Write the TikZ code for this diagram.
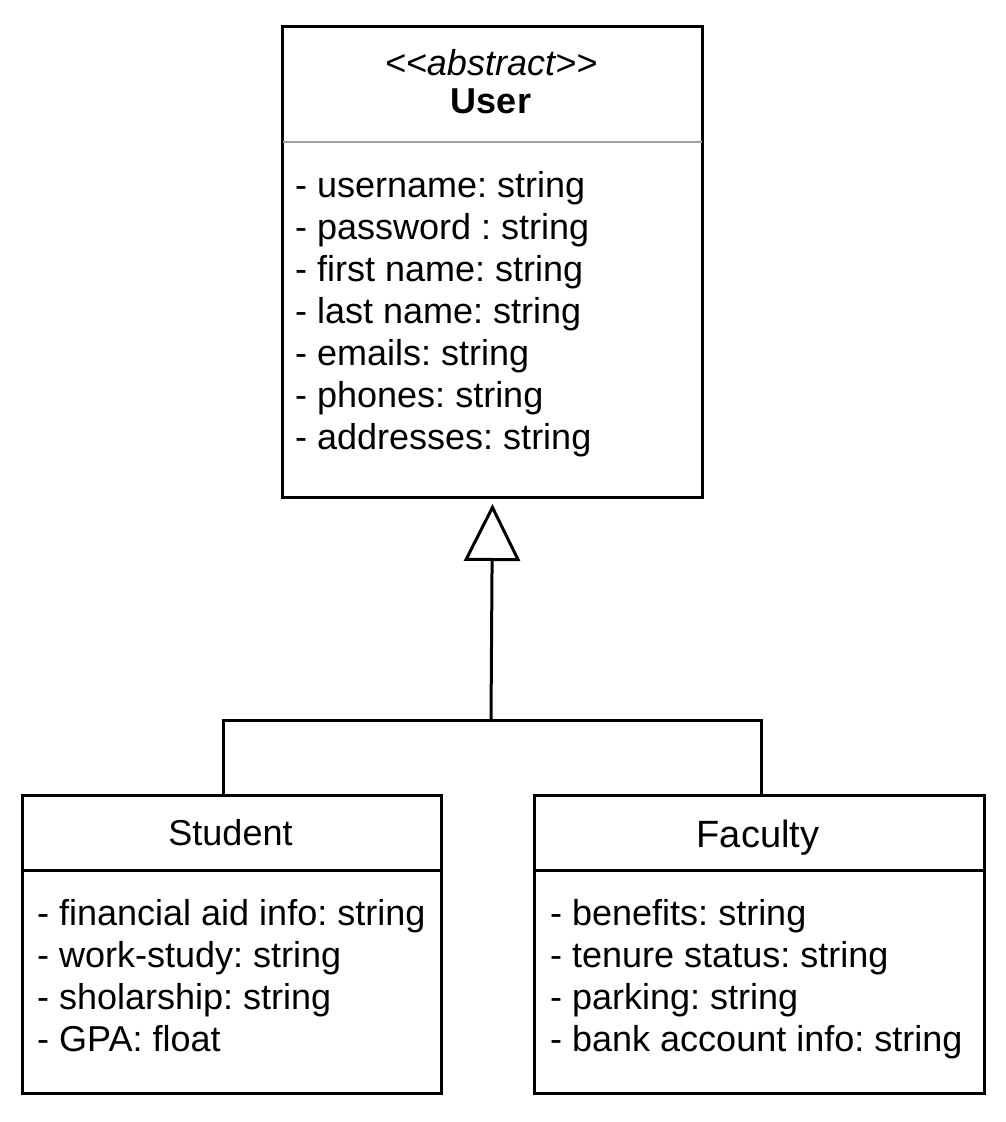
\documentclass[tikz,border=0pt]{standalone}
\usepackage{fontspec}
\setmainfont{Liberation Sans}[Ligatures=TeXOff]
\usepackage{tikz}
\usetikzlibrary{arrows.meta,positioning,calc}
\definecolor{sepgray}{HTML}{A0A0A0}
\tikzset{
  classbox/.style={draw=black,line width=3pt,fill=white,inner sep=0pt,anchor=north west},
  attr/.style={anchor=base west,inner sep=0pt,font=\fontsize{36}{42}\selectfont},
  ctitle/.style={anchor=base,inner sep=0pt,font=\fontsize{36}{42}\selectfont},
  link/.style={draw=black,line width=3pt},
}
\frenchspacing
\begin{document}
\begin{tikzpicture}[x=1pt,y=-1pt]
    \fill[white] (0,0) rectangle (1006,1122);
    \useasboundingbox (0,0) rectangle (1006,1122);
    % class boxes
    \node[classbox,minimum width=420pt,minimum height=471pt] (user) at (281,25) {};
    \node[classbox,minimum width=419pt,minimum height=298pt] (stud) at (21,794) {};
    \node[classbox,minimum width=450pt,minimum height=298pt] (fac) at (533,794) {};
    % compartment lines
    \draw[sepgray,line width=2pt] ($(user.north west)+(2,117)$) -- ($(user.north east)+(-2,117)$);
    \draw[line width=3pt] ($(stud.north west)+(0,76)$) -- ($(stud.north east)+(0,76)$);
    \draw[line width=3pt] ($(fac.north west)+(0,76)$) -- ($(fac.north east)+(0,76)$);
    % titles
    \node[ctitle] (ustereo) at (491,75) {\itshape <<abstract>>};
    \node[ctitle] (uname) at (491,113) {\bfseries User};
    \node[ctitle] (sname) at (230.5,845) {Student};
    \node[ctitle,font=\fontsize{38}{44}\selectfont] (fname) at (758,847) {Faculty};
    % attributes
    \foreach \txt [count=\i] in {username: string,password : string,first name: string,last name: string,emails: string,phones: string,addresses: string}
      {\node[attr] (ua\i) at (295,{155+42*\i}) {- \txt};}
    \foreach \txt [count=\i] in {financial aid info: string,work-study: string,sholarship: string,GPA: float}
      {\node[attr] (sa\i) at (37,{883+42*\i}) {- \txt};}
    \foreach \txt [count=\i] in {benefits: string,tenure status: string,parking: string,bank account info: string}
      {\node[attr] (fa\i) at (550,{883+42*\i}) {- \txt};}
    % generalization
    \coordinate (join) at (491,720);
    \draw[link] ([xshift=-8.5pt]stud.north) |- (join);
    \draw[link] ([xshift=2pt]fac.north) |- (join);
    \draw[link,-{Triangle[open,length=57pt,width=56pt]},shorten >=5pt] (join) -- (user.south);
  \end{tikzpicture}
\end{document}
